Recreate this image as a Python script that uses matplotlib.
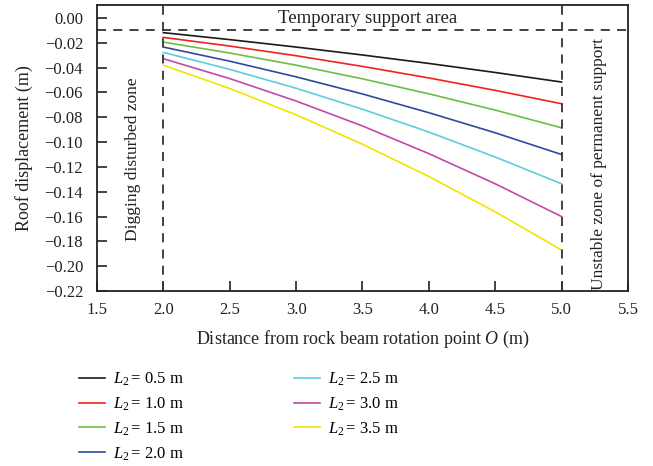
import matplotlib
matplotlib.use("Agg")
import matplotlib.pyplot as plt

plt.rcParams["font.family"] = ["Liberation Serif", "DejaVu Serif"]
plt.rcParams["mathtext.fontset"] = "custom"
plt.rcParams["mathtext.rm"] = "Liberation Serif"
plt.rcParams["mathtext.it"] = "Liberation Serif:italic"

# Distance from rotation point O (m)
distance = [2.0, 2.5, 3.0, 3.5, 4.0, 4.5, 5.0]

# Roof displacement (m) for each L2 value
l2_labels = ["0.5", "1.0", "1.5", "2.0", "2.5", "3.0", "3.5"]
disp_05 = [-0.0118, -0.0174, -0.0234, -0.0298, -0.0366, -0.0439, -0.0516]
disp_10 = [-0.0156, -0.0226, -0.0304, -0.0390, -0.0483, -0.0583, -0.0691]
disp_15 = [-0.0194, -0.0282, -0.0380, -0.0490, -0.0611, -0.0742, -0.0885]
disp_20 = [-0.0234, -0.0348, -0.0474, -0.0612, -0.0763, -0.0925, -0.1100]
disp_25 = [-0.0277, -0.0414, -0.0566, -0.0735, -0.0919, -0.1120, -0.1336]
disp_30 = [-0.0328, -0.0488, -0.0669, -0.0870, -0.1093, -0.1336, -0.1600]
disp_35 = [-0.0380, -0.0568, -0.0780, -0.1017, -0.1277, -0.1562, -0.1870]
series = [disp_05, disp_10, disp_15, disp_20, disp_25, disp_30, disp_35]

colors = ["#1a1a1a", "#ee2222", "#6cbf45", "#2d4aa0", "#5ccde0", "#c04aa8", "#f2e400"]

# Zone boundaries
support_level = -0.01
zone_left = 2.0
zone_right = 5.0

x_ticks = [1.5, 2.0, 2.5, 3.0, 3.5, 4.0, 4.5, 5.0, 5.5]
y_ticks = [0.00, -0.02, -0.04, -0.06, -0.08, -0.10, -0.12, -0.14, -0.16, -0.18, -0.20, -0.22]

fig = plt.figure(figsize=(6.53, 4.66), dpi=100)
ax = fig.add_axes([0.1485, 0.3755, 0.8132, 0.6138])

for vals, lab, c in zip(series, l2_labels, colors):
    ax.plot(distance, vals, color=c, lw=1.2, label=r"$L_2\,$" + f"= {lab} m")

dash_kw = dict(color="#333333", lw=1.3, dashes=(5, 4))
ax.axhline(support_level, **dash_kw)
ax.axvline(zone_left, **dash_kw)
ax.axvline(zone_right, **dash_kw)

ax.set_xlim(1.5, 5.5)
ax.set_ylim(-0.22, 0.0105)
ax.set_xticks(x_ticks)
ax.set_xticklabels([f"{v:.1f}" for v in x_ticks])
ax.set_yticks(y_ticks)
ax.set_yticklabels([f"{v:.2f}".replace("-", "\u2212") if v != 0 else "0.00" for v in y_ticks])
ax.tick_params(direction="in", length=7, width=1.2, labelsize=12, colors="#222222")
ax.tick_params(axis="x", pad=8)
ax.tick_params(axis="y", pad=10)
for s in ax.spines.values():
    s.set_linewidth(1.3)
    s.set_color("#222222")

ax.text(3.54, -0.0002, "Temporary support area", ha="center", va="center", fontsize=13.5, color="#222222")
ax.text(1.77, -0.114, "Digging disturbed zone", rotation=90, ha="center", va="center", fontsize=12.5, color="#222222")
ax.text(5.285, -0.118, "Unstable zone of permanent support", rotation=90, ha="center", va="center", fontsize=12.5, color="#222222")

ax.set_xlabel(r"Distance from rock beam rotation point $O$ (m)", fontsize=13, labelpad=8, color="#222222")
ax.set_ylabel("Roof displacement (m)", fontsize=13, labelpad=8, color="#222222")

fig.legend(loc="upper left", bbox_to_anchor=(0.121, 0.205), ncol=2, frameon=False,
           fontsize=12, handlelength=1.55, handletextpad=0.5, columnspacing=6.6,
           labelspacing=0.45, borderpad=0, borderaxespad=0)

fig.savefig("out.png", dpi=100)
